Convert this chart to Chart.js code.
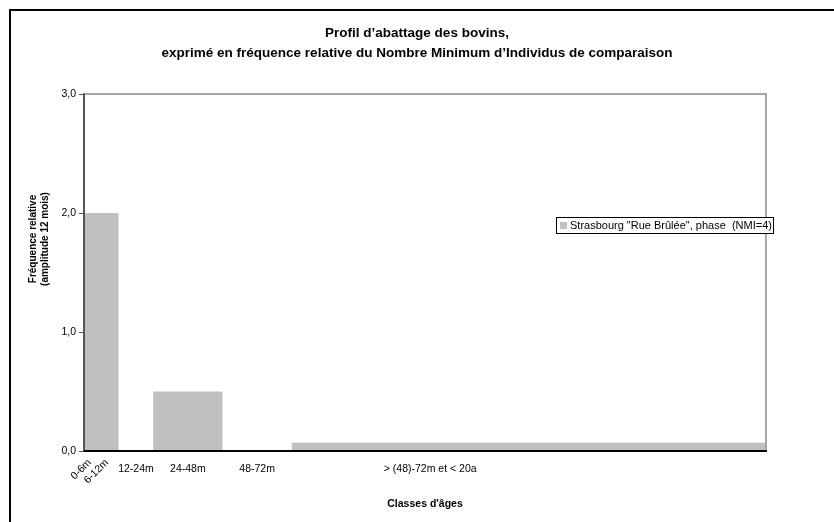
<!DOCTYPE html>
<html>
<head>
<meta charset="utf-8">
<title>Profil d'abattage des bovins</title>
<script src="https://cdn.jsdelivr.net/npm/chart.js@4.4.1/dist/chart.umd.min.js"></script>
<style>
  html, body { margin: 0; padding: 0; background: #fff; }
  #frame { position: absolute; left: 9px; top: 9px; right: 0; bottom: 0; border-left: 2px solid #000; border-top: 2px solid #000; }
  #myChart { position: absolute; left: 0; top: 0; }
</style>
</head>
<body>
<div id="frame"></div>
<canvas id="myChart" width="834" height="522"></canvas>
<script>
// age classes, x in units of 12 months
const classLabels = ['0-6m', '6-12m', '12-24m', '24-48m', '48-72m', '> (48)-72m et < 20a'];
const labelPos = [0.25, 0.75, 1.5, 3, 5, 10];
const binStarts = [0, 0.5, 1, 2, 4, 6];
const binEnd = 20;
const binValues = [2.0, 2.0, 0, 0.5, 0, 0.07];
const yTicks = [0, 1, 2, 3];
const seriesLabel = 'Strasbourg "Rue Brûlée", phase  (NMI=4)';
const yTitle = ['Fréquence relative', '(amplitude 12 mois)'];

Chart.defaults.font.family = '"Liberation Sans", Arial, sans-serif';
Chart.defaults.color = '#000';

// histogram outline as a step line
const points = binStarts.map((x, i) => ({ x: x, y: binValues[i] }));
points.push({ x: binEnd, y: binValues[binValues.length - 1] });

const fmt = v => v.toFixed(1).replace('.', ',');

const extras = {
    id: 'extras',
    afterDatasetsDraw(chart) {
        const { ctx, chartArea: a } = chart;
        ctx.save();
        // top and right frame of the plot
        ctx.strokeStyle = '#a6a6a6';
        ctx.lineWidth = 2;
        ctx.beginPath();
        ctx.moveTo(a.left, a.top);
        ctx.lineTo(a.right, a.top);
        ctx.lineTo(a.right, a.bottom);
        ctx.stroke();
        // axes drawn again over the bars
        ctx.strokeStyle = '#555';
        ctx.beginPath();
        ctx.moveTo(a.left, a.top);
        ctx.lineTo(a.left, a.bottom);
        ctx.stroke();
        ctx.strokeStyle = '#000';
        ctx.beginPath();
        ctx.moveTo(a.left, a.bottom);
        ctx.lineTo(a.right + 1, a.bottom);
        ctx.stroke();
        ctx.restore();
    },
    afterDraw(chart) {
        const { ctx, chartArea: a } = chart;
        const xs = chart.scales.x;
        ctx.save();

        // the two first classes are written slanted
        ctx.font = '10.5px "Liberation Sans", Arial, sans-serif';
        ctx.fillStyle = '#000';
        ctx.textAlign = 'right';
        ctx.textBaseline = 'middle';
        for (let i = 0; i < 2; i++) {
            ctx.save();
            ctx.translate(xs.getPixelForValue(labelPos[i]) - 3, a.bottom + 10);
            ctx.rotate(-Math.PI / 4);
            ctx.fillText(classLabels[i], 0, 0);
            ctx.restore();
        }

        // y axis title
        ctx.font = 'bold 10px "Liberation Sans", Arial, sans-serif';
        ctx.textAlign = 'center';
        yTitle.forEach((t, i) => {
            ctx.save();
            ctx.translate(33 + i * 12, 239);
            ctx.rotate(-Math.PI / 2);
            ctx.fillText(t, 0, 0);
            ctx.restore();
        });

        // legend box
        const lx = 556, ly = 217, lw = 217, lh = 16;
        ctx.fillStyle = '#fff';
        ctx.fillRect(lx, ly, lw, lh);
        ctx.strokeStyle = '#000';
        ctx.lineWidth = 1;
        ctx.strokeRect(lx + 0.5, ly + 0.5, lw, lh);
        ctx.fillStyle = '#c0c0c0';
        ctx.fillRect(lx + 4, ly + 5, 7, 7);
        ctx.fillStyle = '#000';
        ctx.font = '11px "Liberation Sans", Arial, sans-serif';
        ctx.textAlign = 'left';
        ctx.fillText(chart.data.datasets[0].label, lx + 14, ly + lh / 2 + 1);
        ctx.restore();
    }
};

new Chart(document.getElementById('myChart'), {
    type: 'line',
    data: {
        datasets: [{
            label: seriesLabel,
            data: points,
            stepped: 'before',
            fill: 'origin',
            backgroundColor: '#c0c0c0',
            borderColor: 'rgba(0,0,0,0)',
            borderWidth: 0,
            pointRadius: 0
        }]
    },
    options: {
        responsive: false,
        animation: false,
        layout: { padding: 0 },
        plugins: {
            legend: { display: false },
            tooltip: { enabled: false },
            title: {
                display: true,
                text: ['Profil d’abattage des bovins,', 'exprimé en fréquence relative du Nombre Minimum d’Individus de comparaison'],
                font: { size: 13.5, weight: 'bold', lineHeight: 19.5 / 13.5 },
                color: '#000',
                padding: { top: 24, bottom: 31 }
            }
        },
        scales: {
            x: {
                type: 'linear',
                min: 0,
                max: 19.7,
                afterBuildTicks: s => { s.ticks = labelPos.map(v => ({ value: v })); },
                afterFit: s => { s.height = 71; },
                ticks: {
                    autoSkip: false,
                    maxRotation: 0,
                    padding: 12,
                    font: { size: 10.5 },
                    callback: (v, i) => (i < 2 ? '' : classLabels[i])
                },
                grid: { display: false, drawTicks: false },
                border: { display: true, color: '#000', width: 2 },
                title: {
                    display: true,
                    text: "Classes d'âges",
                    font: { size: 10.5, weight: 'bold' },
                    padding: { top: 0, bottom: 12 }
                }
            },
            y: {
                min: 0,
                max: 3,
                afterBuildTicks: s => { s.ticks = yTicks.map(v => ({ value: v })); },
                afterFit: s => { s.width = 84; },
                ticks: { padding: 3, font: { size: 10.5 }, callback: v => fmt(v) },
                grid: { display: true, drawOnChartArea: false, drawTicks: true, tickLength: 5, color: '#555' },
                border: { display: true, color: '#555', width: 2 }
            },
            // empty right-hand space so the title centres on the whole page
            right: {
                position: 'right',
                display: true,
                ticks: { display: false },
                grid: { display: false, drawTicks: false },
                border: { display: false },
                afterFit: s => { s.width = 68; }
            }
        }
    },
    plugins: [extras]
});
</script>
</body>
</html>
